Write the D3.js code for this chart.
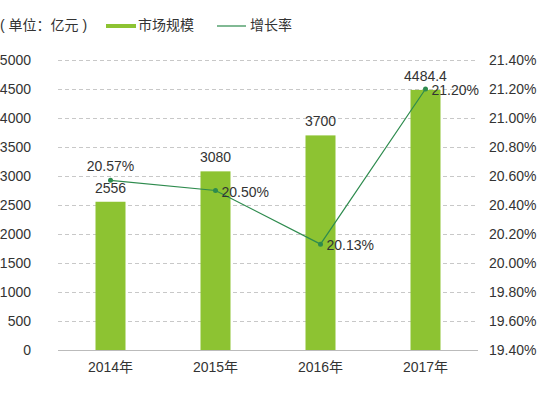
<!DOCTYPE html>
<html lang="zh">
<head>
<meta charset="utf-8">
<title>市场规模与增长率</title>
<script src="https://cdn.jsdelivr.net/npm/d3@7"></script>
<style>
  body { margin: 0; background: #fff; }
  text { font-family: "Liberation Sans", Arial, "Noto Sans CJK SC", sans-serif; font-size: 14px; fill: #333; }
  .grid line { stroke: #c8c8c8; stroke-dasharray: 4,3; }
</style>
</head>
<body>
<script>
// data
var years = ["2014年", "2015年", "2016年", "2017年"];
var marketSize = [2556, 3080, 3700, 4484.4];
var growthRate = [20.57, 20.50, 20.13, 21.20];
var leftTicks = [0, 500, 1000, 1500, 2000, 2500, 3000, 3500, 4000, 4500, 5000];
var rightTicks = [19.4, 19.6, 19.8, 20.0, 20.2, 20.4, 20.6, 20.8, 21.0, 21.2, 21.4];

var W = 538, H = 393;
var padL = 58, padR = 478, padT = 60, padB = 350;

var svg = d3.select("body").append("svg").attr("width", W).attr("height", H);

var x = d3.scaleBand().domain(years).range([padL, padR]);
var y = d3.scaleLinear().domain([0, 5000]).range([padB, padT]);
var y2 = d3.scaleLinear().domain([19.4, 21.4]).range([padB, padT]);

// grid
svg.append("g").attr("class", "grid")
  .selectAll("line").data(leftTicks.slice(1)).enter().append("line")
  .attr("x1", padL).attr("x2", padR)
  .attr("y1", function(d) { return Math.round(y(d)) + 0.5; })
  .attr("y2", function(d) { return Math.round(y(d)) + 0.5; });

// left labels
svg.append("g").selectAll("text").data(leftTicks).enter().append("text")
  .attr("x", 31).attr("y", function(d) { return y(d) + 5; })
  .attr("text-anchor", "end")
  .text(function(d) { return d; });

// right labels
svg.append("g").selectAll("text").data(rightTicks).enter().append("text")
  .attr("x", 489).attr("y", function(d) { return y2(d) + 5; })
  .text(function(d) { return d.toFixed(2) + "%"; });

// bars
var bw = 30;
svg.append("g").selectAll("rect").data(marketSize).enter().append("rect")
  .attr("x", function(d, i) { return x(years[i]) + x.bandwidth() / 2 - bw / 2; })
  .attr("y", function(d) { return y(d); })
  .attr("width", bw)
  .attr("height", function(d) { return padB - y(d); })
  .attr("fill", "#8dc332");

// baseline
svg.append("line").attr("x1", padL).attr("x2", padR)
  .attr("y1", padB + 0.5).attr("y2", padB + 0.5)
  .attr("stroke", "#bbb");

// x labels
svg.append("g").selectAll("text").data(years).enter().append("text")
  .attr("x", function(d) { return x(d) + x.bandwidth() / 2; })
  .attr("y", 372)
  .attr("text-anchor", "middle")
  .text(function(d) { return d; });

// bar labels
svg.append("g").selectAll("text").data(marketSize).enter().append("text")
  .attr("x", function(d, i) { return x(years[i]) + x.bandwidth() / 2; })
  .attr("y", function(d) { return y(d) - 9; })
  .attr("text-anchor", "middle")
  .text(function(d) { return d; });

// line
var cx = function(d, i) { return x(years[i]) + x.bandwidth() / 2; };
var line = d3.line().x(cx).y(function(d) { return y2(d); });
svg.append("path").datum(growthRate)
  .attr("d", line).attr("fill", "none")
  .attr("stroke", "#2e8b4e").attr("stroke-width", 1.2);

svg.append("g").selectAll("circle").data(growthRate).enter().append("circle")
  .attr("cx", cx).attr("cy", function(d) { return y2(d); })
  .attr("r", 2.5).attr("fill", "#2e8b4e");

// rate labels
svg.append("g").selectAll("text").data(growthRate).enter().append("text")
  .attr("x", function(d, i) { return i === 0 ? cx(d, i) : cx(d, i) + 6; })
  .attr("y", function(d, i) { return i === 0 ? y2(d) - 9 : y2(d) + 6; })
  .attr("text-anchor", function(d, i) { return i === 0 ? "middle" : "start"; })
  .text(function(d) { return d.toFixed(2) + "%"; });

// legend
svg.append("text").attr("x", 0).attr("y", 30).text("( 单位：亿元 )");
svg.append("rect").attr("x", 106).attr("y", 24).attr("width", 30).attr("height", 4).attr("fill", "#8dc332");
svg.append("text").attr("x", 138).attr("y", 30).text("市场规模");
svg.append("line").attr("x1", 217).attr("x2", 246).attr("y1", 26).attr("y2", 26)
  .attr("stroke", "#2e8b4e").attr("stroke-width", 1.2);
svg.append("text").attr("x", 250).attr("y", 30).text("增长率");
</script>
</body>
</html>
